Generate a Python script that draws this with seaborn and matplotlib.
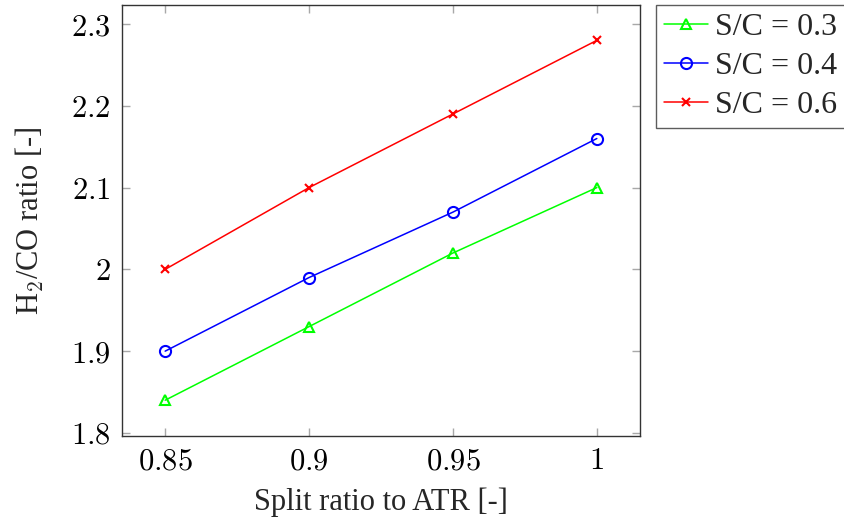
import matplotlib
matplotlib.use("Agg")
import matplotlib.pyplot as plt
import seaborn as sns
import numpy as np
from matplotlib.ticker import FuncFormatter, FixedLocator

# Split ratio to ATR and resulting H2/CO ratio per steam-to-carbon ratio
split_ratio = [0.85, 0.90, 0.95, 1.00]
h2co_sc03 = [1.84, 1.93, 2.02, 2.10]
h2co_sc04 = [1.90, 1.99, 2.07, 2.16]
h2co_sc06 = [2.00, 2.10, 2.19, 2.28]
series_labels = ["S/C = 0.3", "S/C = 0.4", "S/C = 0.6"]
x_ticks = [0.85, 0.90, 0.95, 1.00]
y_ticks = [1.8, 1.9, 2.0, 2.1, 2.2, 2.3]

sns.set_theme(style="white")
plt.rcParams["font.family"] = ["Liberation Serif", "DejaVu Serif"]
plt.rcParams["mathtext.fontset"] = "cm"

FS = 22

fig = plt.figure(figsize=(8.44, 5.18), dpi=100)
ax = fig.add_axes([122 / 844, 1 - 436 / 518, (640 - 122) / 844, (436 - 5) / 518])

styles = [
    (h2co_sc03, (0, 1, 0), "^", 7.5),
    (h2co_sc04, (0, 0, 1), "o", 8),
    (h2co_sc06, (1, 0, 0), "x", 6),
]
for (vals, col, mk, ms), lab in zip(styles, series_labels):
    sns.lineplot(x=split_ratio, y=vals, ax=ax, color=col, linewidth=1.1,
                 marker=mk, markersize=ms, markerfacecolor="none",
                 markeredgecolor=col, markeredgewidth=1.5, label=lab)

ax.set_xlim(0.85 - 0.15 * 0.1, 1.0 + 0.15 * 0.1)
ax.set_ylim(1.8 - 0.5 * 0.0075, 2.3 + 0.5 * 0.0465)
ax.xaxis.set_major_locator(FixedLocator(x_ticks))
ax.yaxis.set_major_locator(FixedLocator(y_ticks))
fmt = FuncFormatter(lambda v, p: r"$%s$" % ("%g" % round(v, 4)))
ax.xaxis.set_major_formatter(fmt)
ax.yaxis.set_major_formatter(fmt)

ax.tick_params(axis="both", which="major", direction="in", length=6, width=1,
               color="#a8a8a8", labelsize=FS, labelcolor="black",
               top=True, right=True, bottom=True, left=True, pad=8)
for sp in ax.spines.values():
    sp.set_color("#333333")
    sp.set_linewidth(1.0)

ax.set_xlabel("Split ratio to ATR [-]", fontsize=FS, labelpad=8)
ax.set_ylabel(r"H$_2$/CO ratio [-]", fontsize=FS, labelpad=18)

leg = ax.legend(loc="upper left", bbox_to_anchor=(656 / 844, 1 - 5 / 518),
                bbox_transform=fig.transFigure, borderaxespad=0,
                fontsize=23, frameon=True, fancybox=False, handlelength=1.4,
                handletextpad=0.22, labelspacing=0.3, borderpad=0.24)
leg.get_frame().set_edgecolor("#333333")
leg.get_frame().set_linewidth(1.0)

fig.savefig("out.png", dpi=100)
